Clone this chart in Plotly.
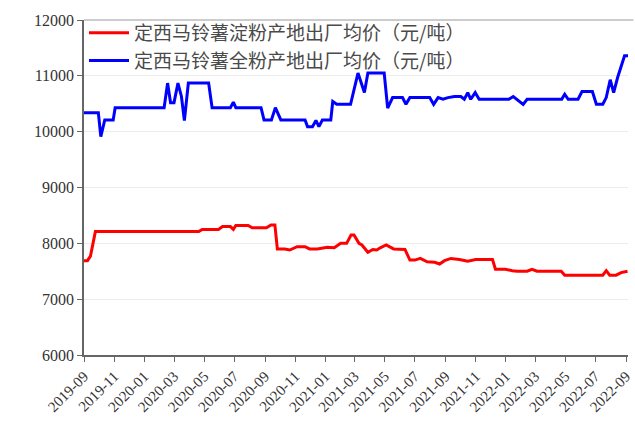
import plotly.graph_objects as go

# 定西马铃薯淀粉产地出厂均价（元/吨）
starch_dates = [
    "2019-09-01", "2019-09-08", "2019-09-14", "2019-09-24", "2020-04-20", "2020-04-27",
    "2020-05-30", "2020-06-07", "2020-06-23", "2020-06-29", "2020-07-04", "2020-07-29",
    "2020-08-06", "2020-09-04", "2020-09-13", "2020-09-21", "2020-09-26", "2020-10-11",
    "2020-10-21", "2020-11-05", "2020-11-21", "2020-11-30", "2020-12-16", "2020-12-26",
    "2021-01-05", "2021-01-19", "2021-02-01", "2021-02-13", "2021-02-22", "2021-02-28",
    "2021-03-10", "2021-03-16", "2021-03-28", "2021-04-07", "2021-04-15", "2021-04-22",
    "2021-05-04", "2021-05-19", "2021-06-06", "2021-06-11", "2021-06-21", "2021-07-01",
    "2021-07-12", "2021-07-26", "2021-08-10", "2021-08-20", "2021-08-30", "2021-09-12",
    "2021-09-29", "2021-10-16", "2021-11-01", "2021-12-05", "2021-12-11", "2021-12-31",
    "2022-01-14", "2022-01-24", "2022-02-13", "2022-02-23", "2022-03-05", "2022-04-23",
    "2022-04-30", "2022-05-14", "2022-05-24", "2022-06-03", "2022-07-16", "2022-07-23",
    "2022-07-30", "2022-08-12", "2022-08-22", "2022-09-04",
]
starch_values = [
    7690, 7690, 7770, 8210, 8210, 8250,
    8250, 8300, 8300, 8250, 8320, 8320,
    8280, 8280, 8330, 8330, 7900, 7900,
    7880, 7940, 7940, 7900, 7900, 7920,
    7930, 7920, 8000, 8000, 8150, 8150,
    8000, 7970, 7840, 7890, 7880, 7920,
    7970, 7900, 7900, 7890, 7700, 7700,
    7730, 7670, 7660, 7630, 7690, 7730,
    7710, 7680, 7710, 7710, 7535, 7535,
    7510, 7500, 7500, 7535, 7500, 7500,
    7430, 7430, 7440, 7430, 7430, 7510,
    7430, 7430, 7475, 7500,
]

# 定西马铃薯全粉产地出厂均价（元/吨）
flour_dates = [
    "2019-09-01", "2019-09-30", "2019-10-05", "2019-10-13", "2019-10-30", "2019-11-03",
    "2020-02-10", "2020-02-17", "2020-02-23", "2020-03-01", "2020-03-09", "2020-03-16",
    "2020-03-22", "2020-03-30", "2020-05-10", "2020-05-17", "2020-06-23", "2020-06-29",
    "2020-07-04", "2020-08-24", "2020-08-30", "2020-09-14", "2020-09-22", "2020-10-03",
    "2020-11-21", "2020-11-26", "2020-12-06", "2020-12-13", "2020-12-19", "2020-12-26",
    "2021-01-12", "2021-01-16", "2021-01-24", "2021-02-21", "2021-03-08", "2021-03-21",
    "2021-03-28", "2021-04-30", "2021-05-07", "2021-05-17", "2021-06-06", "2021-06-13",
    "2021-06-21", "2021-07-31", "2021-08-08", "2021-08-17", "2021-08-27", "2021-09-06",
    "2021-09-19", "2021-10-02", "2021-10-09", "2021-10-16", "2021-10-22", "2021-10-31",
    "2021-11-08", "2022-01-07", "2022-01-16", "2022-02-05", "2022-02-13", "2022-04-24",
    "2022-04-30", "2022-05-07", "2022-05-27", "2022-06-04", "2022-06-25", "2022-07-03",
    "2022-07-16", "2022-07-23", "2022-07-31", "2022-08-07", "2022-08-15", "2022-08-29",
    "2022-09-05",
]
flour_values = [
    10340, 10340, 9910, 10210, 10210, 10430,
    10430, 10870, 10520, 10520, 10870, 10630,
    10200, 10870, 10870, 10430, 10430, 10530,
    10430, 10430, 10210, 10210, 10430, 10210,
    10210, 10090, 10090, 10200, 10090, 10210,
    10210, 10540, 10490, 10490, 11050, 10700,
    11050, 11050, 10420, 10610, 10610, 10490,
    10610, 10610, 10490, 10610, 10580, 10610,
    10630, 10630, 10580, 10700, 10580, 10700,
    10580, 10580, 10630, 10490, 10580, 10580,
    10670, 10580, 10580, 10720, 10720, 10490,
    10490, 10610, 10930, 10700, 10970, 11360,
    11360,
]

series_names = [
    "定西马铃薯淀粉产地出厂均价（元/吨）",
    "定西马铃薯全粉产地出厂均价（元/吨）",
]

fig = go.Figure()
fig.add_trace(go.Scatter(x=starch_dates, y=starch_values, mode="lines",
                         name=series_names[0],
                         line=dict(color="#ff0000", width=3)))
fig.add_trace(go.Scatter(x=flour_dates, y=flour_values, mode="lines",
                         name=series_names[1],
                         line=dict(color="#0000ff", width=3)))

ytick_font = dict(family="Liberation Serif", size=16, color="#333333")
xtick_font = dict(family="Liberation Serif", size=15, color="#333333")

fig.update_layout(
    width=635, height=425,
    margin=dict(l=84, r=7, t=20, b=70),
    paper_bgcolor="white", plot_bgcolor="white",
    showlegend=True,
    legend=dict(x=0.0, y=1.018, xanchor="left", yanchor="top",
                bgcolor="rgba(255,255,255,0)",
                font=dict(family="Noto Sans CJK SC", size=19, color="#4a4a4a"),
                itemwidth=40, tracegroupgap=0),
    xaxis=dict(
        type="date", automargin=False,
        range=["2019-09-01", "2022-09-05"],
        tick0="2019-09-01", dtick="M2", tickformat="%Y-%m",
        tickangle=-45, tickfont=xtick_font, ticklabeloverflow="allow",
        showgrid=False, showline=True, linecolor="#666666", linewidth=1.5,
        ticks="outside", ticklen=5, tickcolor="#666666",
        zeroline=False,
    ),
    yaxis=dict(
        automargin=False,
        range=[6000, 12000], dtick=1000, tickformat="d", tickfont=ytick_font,
        showgrid=True, gridcolor="#ececec", gridwidth=1,
        showline=True, linecolor="#666666", linewidth=1.5,
        ticks="outside", ticklen=5, tickcolor="#666666",
        zeroline=False,
    ),
    shapes=[dict(type="line", xref="paper", yref="paper", x0=0, x1=1.01, y0=1, y1=1,
                 line=dict(color="#bbbbbb", width=1.5))],
)

fig.write_html("out.html", config={"displayModeBar": False},
               post_script="document.body.style.margin='0px';document.body.style.overflow='hidden';")
